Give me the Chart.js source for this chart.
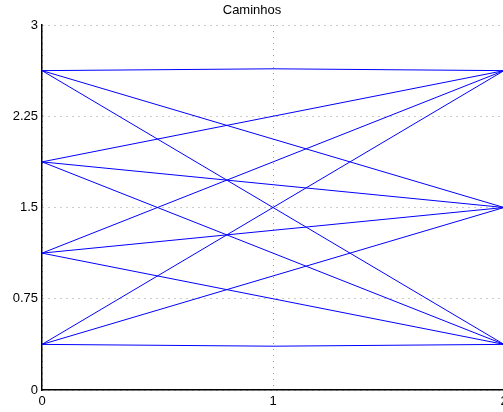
<!DOCTYPE html>
<html>
<head>
<meta charset="utf-8">
<script src="https://cdn.jsdelivr.net/npm/chart.js@4/dist/chart.umd.min.js"></script>
<style>
  html, body { margin: 0; padding: 0; background: #fff; overflow: hidden; }
  #wrap { width: 503px; height: 412px; overflow: hidden; }
</style>
</head>
<body>
<div id="wrap"><canvas id="pathChart" width="520" height="412"></canvas></div>
<script>
// Chart data
const titleText = 'Caminhos';
const xTicks = [0, 1, 2];
const yTicks = [0, 0.75, 1.5, 2.25, 3];

// each path is a list of [x, y] points
const paths = [
  [[0, 2.625], [1, 2.64], [2, 2.625]],
  [[0, 2.625], [2, 1.5]],
  [[0, 2.625], [2, 0.375]],
  [[0, 1.875], [2, 2.625]],
  [[0, 1.875], [2, 1.5]],
  [[0, 1.875], [2, 0.375]],
  [[0, 1.125], [2, 2.625]],
  [[0, 1.125], [2, 1.5]],
  [[0, 1.125], [2, 0.375]],
  [[0, 0.375], [2, 2.625]],
  [[0, 0.375], [2, 1.5]],
  [[0, 0.375], [1, 0.36], [2, 0.375]]
];

const fontFamily = '"Liberation Sans", Arial, Helvetica, sans-serif';

const pathCtx = document.getElementById('pathChart');
if (pathCtx) {
  window.pathChart = new Chart(pathCtx, {
    type: 'scatter',
    data: {
      datasets: paths.map(p => ({
        data: p.map(pt => ({ x: pt[0], y: pt[1] })),
        showLine: true,
        borderColor: '#0000ff',
        borderWidth: 1,
        pointRadius: 0,
        tension: 0,
        clip: false
      }))
    },
    options: {
      responsive: false,
      animation: false,
      layout: {
        padding: { top: 0, bottom: 0, left: 0, right: 16 }
      },
      scales: {
        x: {
          type: 'linear',
          min: 0,
          max: 2,
          afterBuildTicks: scale => { scale.ticks = xTicks.map(v => ({ value: v })); },
          afterFit: scale => { scale.height = 22; },
          ticks: {
            color: '#000',
            padding: 4,
            font: { family: fontFamily, size: 13 }
          },
          grid: {
            color: '#999',
            lineWidth: 1,
            drawTicks: false
          },
          border: {
            display: true,
            color: '#000',
            width: 1.5,
            dash: [1, 5]
          }
        },
        y: {
          type: 'linear',
          min: 0,
          max: 3,
          afterBuildTicks: scale => { scale.ticks = yTicks.map(v => ({ value: v })); },
          afterFit: scale => { scale.width = 42; },
          ticks: {
            color: '#000',
            padding: 4,
            font: { family: fontFamily, size: 13 },
            callback: v => String(v)
          },
          grid: {
            color: '#999',
            lineWidth: 1,
            drawTicks: false
          },
          border: {
            display: true,
            color: '#000',
            width: 1.5,
            dash: [1, 5]
          }
        }
      },
      plugins: {
        legend: { display: false },
        tooltip: { enabled: false },
        title: {
          display: true,
          text: titleText,
          color: '#000',
          font: { family: fontFamily, size: 13, weight: 'normal' },
          padding: { top: 3, bottom: 6.4 }
        }
      }
    }
  });
}
</script>
</body>
</html>
